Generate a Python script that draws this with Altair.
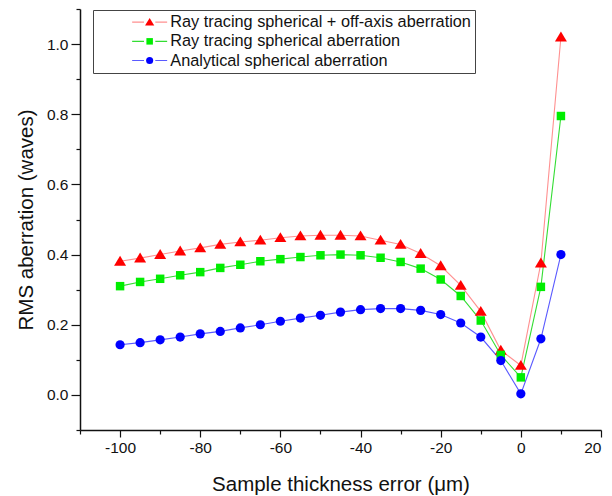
import altair as alt
import pandas as pd

# ---- data ----
x_err = [-100, -95, -90, -85, -80, -75, -70, -65, -60, -55, -50, -45, -40,
         -35, -30, -25, -20, -15, -10, -5, 0, 5, 10]
ray_offaxis = [0.381, 0.390, 0.400, 0.410, 0.419, 0.429, 0.436, 0.441, 0.448,
               0.453, 0.455, 0.455, 0.453, 0.441, 0.429, 0.403, 0.368, 0.312,
               0.238, 0.127, 0.084, 0.376, 1.020]
ray_spherical = [0.310, 0.322, 0.331, 0.341, 0.350, 0.362, 0.371, 0.381, 0.387,
                 0.393, 0.398, 0.400, 0.398, 0.391, 0.379, 0.360, 0.329, 0.282,
                 0.212, 0.114, 0.050, 0.308, 0.795]
analytical = [0.143, 0.149, 0.157, 0.165, 0.174, 0.181, 0.191, 0.200, 0.210,
              0.219, 0.227, 0.236, 0.243, 0.246, 0.246, 0.241, 0.229, 0.205,
              0.165, 0.098, 0.003, 0.160, 0.400]

series_names = ["Ray tracing spherical + off-axis aberration",
                "Ray tracing spherical aberration",
                "Analytical spherical aberration"]
marker_colors = ["#ff0000", "#00ee00", "#0000ff"]
line_colors = ["#ff9090", "#33dd33", "#5a5aff"]
# triangle drawn a bit larger than square / circle, as in the reference
marker_shapes = ["M0,-1.2L1.3,0.95L-1.3,0.95Z", "M-0.92,-0.92H0.92V0.92H-0.92Z", "circle"]

x_ticks = list(range(-110, 21, 10))
y_ticks = [round(-0.1 + 0.1 * i, 1) for i in range(13)]

rows = []
for name, vals in zip(series_names, [ray_offaxis, ray_spherical, analytical]):
    for xv, yv in zip(x_err, vals):
        rows.append({"x": xv, "y": yv, "series": name})
df = pd.DataFrame(rows)

FONT = "Liberation Sans"

x_enc = alt.X("x:Q",
              scale=alt.Scale(domain=[-110, 20], nice=False, zero=False),
              axis=alt.Axis(values=x_ticks,
                            labelExpr="abs(round(datum.value)) % 20 == 0 ? '' + round(datum.value) : ''",
                            tickSize={"condition": {"test": "abs(round(datum.value)) % 20 == 0", "value": 7}, "value": 4},
                            title="Sample thickness error (μm)",
                            titlePadding=19, labelPadding=3))
y_enc = alt.Y("y:Q",
              scale=alt.Scale(domain=[-0.1, 1.1], nice=False, zero=False),
              axis=alt.Axis(values=y_ticks,
                            labelExpr="abs(round(datum.value*10)) % 2 == 0 ? format(datum.value, '.1f') : ''",
                            tickSize={"condition": {"test": "abs(round(datum.value*10)) % 2 == 0", "value": 9}, "value": 4},
                            title="RMS aberration (waves)",
                            titlePadding=10, labelPadding=3))

legend_common = dict(orient="none", legendX=13, legendY=1, title=None,
                     labelFont=FONT, labelFontSize=16.3, labelColor="#111",
                     padding=4, rowPadding=2.2, symbolSize=50, symbolOffset=44.5,
                     labelLimit=500)

lines = alt.Chart(df).mark_line(strokeWidth=1.1).encode(
    x=x_enc, y=y_enc,
    stroke=alt.Stroke("series:N",
                      scale=alt.Scale(domain=series_names, range=line_colors),
                      legend=alt.Legend(symbolType="M-4.95,0H-1.6M1.6,0H4.95",
                                        symbolStrokeWidth=1.1, labelOffset=12.5,
                                        strokeColor="#444", **legend_common)),
    order=alt.Order("x:Q"),
)

marker_legend = dict(labelOpacity=0, labelExpr="' '", symbolOpacity=1, **legend_common)

points = alt.Chart(df).mark_point(filled=True, opacity=1, size=85).encode(
    x=x_enc, y=y_enc,
    fill=alt.Fill("series:N",
                  scale=alt.Scale(domain=series_names, range=marker_colors),
                  legend=alt.Legend(**marker_legend)),
    shape=alt.Shape("series:N",
                    scale=alt.Scale(domain=series_names, range=marker_shapes),
                    legend=alt.Legend(**marker_legend)),
)

chart = alt.layer(lines, points).resolve_legend(stroke="independent").properties(
    width=521, height=421,
    autosize=alt.AutoSizeParams(type="none"),
    padding={"left": 72, "top": 1, "right": 2, "bottom": 66},
).configure_view(strokeWidth=0).configure_axis(
    grid=False,
    domainColor="#111", domainWidth=1.5,
    tickColor="#111", tickWidth=1.2,
    labelFont=FONT, labelFontSize=15.5, labelColor="#111",
    titleFont=FONT, titleFontSize=20.5, titleFontWeight="normal", titleColor="#111",
)

chart.save("out.html", embed_options={"renderer": "svg", "actions": False})
